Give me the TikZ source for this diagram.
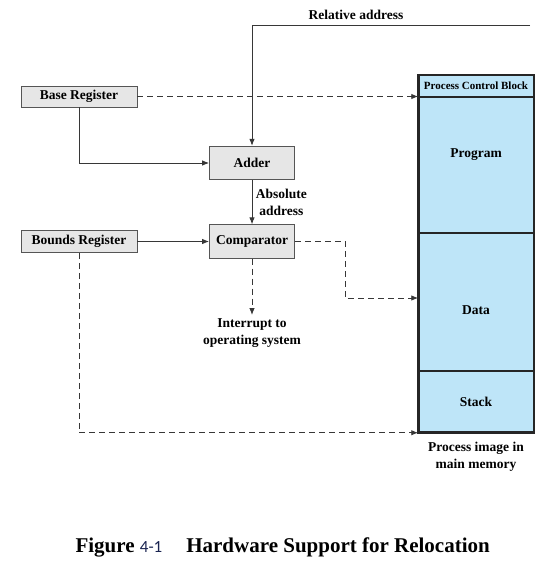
\documentclass[tikz,border=0pt]{standalone}
\usepackage{fontspec}
\setmainfont{Liberation Serif}
\newfontfamily\capnumfont{Carlito}
\usepackage{xcolor}
\usetikzlibrary{arrows.meta,positioning}
\definecolor{memblue}{RGB}{190,229,248}
\definecolor{reggray}{RGB}{230,230,230}
\definecolor{boxgray}{RGB}{85,85,85}
\definecolor{linegray}{RGB}{55,55,55}
\definecolor{capnavy}{RGB}{25,35,80}

\begin{document}
\begin{tikzpicture}[
    x=1pt,y=-1pt,
    node distance=0pt,
    regbox/.style={rectangle,draw=boxgray,fill=reggray,line width=0.8pt,
      minimum width=116pt,minimum height=21pt,inner sep=0pt,
      font=\bfseries\fontsize{13.5}{15}\selectfont},
    opbox/.style={regbox,minimum width=85pt,minimum height=33.5pt},
    memrow/.style={rectangle,draw=black!85,fill=memblue,line width=2.5pt,
      minimum width=115.5pt,inner sep=0pt,outer sep=0pt},
    lbl/.style={align=center,font=\bfseries\fontsize{13.5}{17}\selectfont},
    arrow/.style={-{Latex[length=7pt,width=5.5pt]},line width=0.9pt,draw=linegray},
    dasharrow/.style={arrow,dash pattern=on 6pt off 4pt}
  ]
    \useasboundingbox (0,0) rectangle (556,567);
    % registers and operators
    \node[regbox] (base) at (79,96.5) {Base Register};
    \node[regbox,minimum height=22pt] (bounds) at (79,241.5) {Bounds Register};
    \node[opbox] (adder) at (252,163) {Adder};
    \node[opbox] (comp) at (252,241.5) {Comparator};
    \node[lbl] (reltext) at (356,15) {Relative address};
    \node[lbl] (intr) at (252,333) {Interrupt to\\operating system};
    % process image
    \node[memrow,minimum height=21.75pt,
      label={[font=\bfseries\fontsize{11}{12}\selectfont]center:Process Control Block}]
      (pcb) at (476,86.1) {};
    \node[memrow,minimum height=136pt,below=of pcb,
      label={[lbl,yshift=10pt]center:Program}] (program) {};
    \node[memrow,minimum height=138pt,below=of program,
      label={[lbl,yshift=-8pt]center:Data}] (data) {};
    \node[memrow,minimum height=61.75pt,below=of data,
      label={[lbl]center:Stack}] (stack) {};
    \node[lbl] (memtext) at (476,456.5) {Process image in\\main memory};
    % connectors
    \coordinate (relin) at (530,25);
    \coordinate (bendc) at (345,298);
    \draw[arrow] (relin) -| (adder.north);
    \draw[arrow] (base.south) |- (adder.west);
    \draw[arrow] (adder) -- node[lbl,right] {Absolute\\address} (comp);
    \draw[arrow] (bounds.east) -- (comp.west);
    \draw[dasharrow] (base.east) -- (base.east -| program.west);
    \draw[dasharrow] (comp.east) -| (bendc) -- (bendc -| data.west);
    \draw[dasharrow] (comp.south) -- (intr.north);
    \draw[dasharrow] (bounds.south) |- (stack.south west);
    % caption
    \node[anchor=west,font=\bfseries\fontsize{21}{24}\selectfont] (caption) at (72,547)
      {Figure {\capnumfont\mdseries\fontsize{17}{20}\selectfont\color{capnavy}4-1}\hspace{24pt}Hardware Support for Relocation};
  \end{tikzpicture}
\end{document}
